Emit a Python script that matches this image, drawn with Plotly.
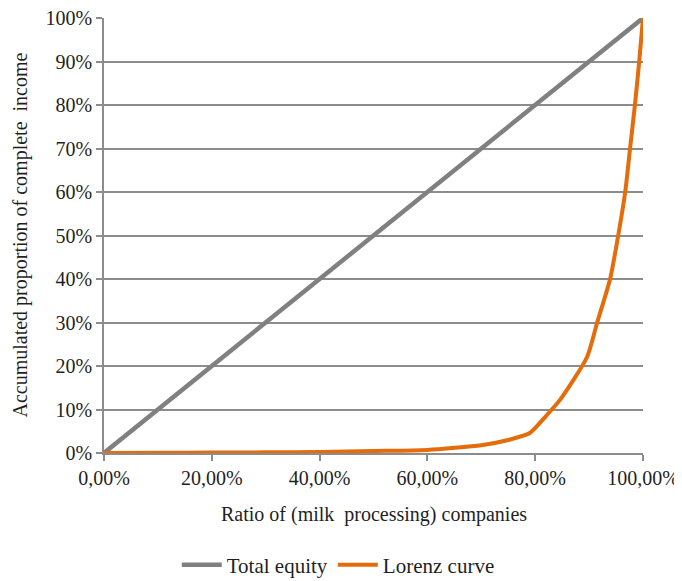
import plotly.graph_objects as go

# Data (fractions 0..1)
equity_x = [0.0, 1.0]
equity_y = [0.0, 1.0]

lorenz_x = [0.0, 0.10, 0.20, 0.30, 0.40, 0.50, 0.60, 0.70, 0.75, 0.79, 0.82, 0.846, 0.896,
            0.915, 0.939, 0.954, 0.967, 0.976, 0.985, 0.993, 1.0]
lorenz_y = [0.0, 0.0005, 0.001, 0.0015, 0.0025, 0.0045, 0.007, 0.018, 0.03, 0.046, 0.085, 0.122, 0.22,
            0.30, 0.40, 0.50, 0.60, 0.70, 0.80, 0.90, 1.0]

x_tickvals = [0.0, 0.2, 0.4, 0.6, 0.8, 1.0]
x_ticktext = ["0,00%", "20,00%", "40,00%", "60,00%", "80,00%", "100,00%"]
y_tickvals = [i / 10 for i in range(11)]
y_ticktext = [f"{i * 10}%" for i in range(11)]

x_title = "Ratio of (milk \u00a0processing) companies"
y_title = "Accumulated proportion of complete \u00a0income"

GRID = "#8c8c8c"
FONT = "Liberation Serif, Times New Roman, serif"
TXT = "#1f1f1f"

# page has an 8px body margin; figure sized to fit the 682x581 window
W, H = 674, 573

fig = go.Figure()
fig.add_trace(go.Scatter(x=equity_x, y=equity_y, mode="lines", name="Total equity",
                         line=dict(color="#808080", width=4.5)))
fig.add_trace(go.Scatter(x=lorenz_x, y=lorenz_y, mode="lines", name="Lorenz curve",
                         line=dict(color="#E46C0A", width=4, shape="spline", smoothing=0.6)))

fig.update_layout(
    width=W, height=H,
    margin=dict(l=96, r=39, t=10, b=128, autoexpand=False),
    paper_bgcolor="white", plot_bgcolor="white",
    font=dict(family=FONT, size=20, color=TXT),
    showlegend=True,
    legend=dict(orientation="h", x=0.49, xanchor="center", xref="container",
                y=1 - 557 / H, yanchor="middle", yref="container", font=dict(size=21),
                tracegroupgap=0, itemwidth=40),
    xaxis=dict(range=[0, 1], tickvals=x_tickvals, ticktext=x_ticktext, automargin=False,
               showgrid=False, zeroline=False, showline=True, linecolor=GRID, linewidth=1.5,
               ticks="outside", ticklen=6, tickcolor=GRID, tickwidth=1.5,
               ticklabeloverflow="allow"),
    yaxis=dict(range=[0, 1], tickvals=y_tickvals, ticktext=y_ticktext, automargin=False,
               showgrid=True, gridcolor=GRID, gridwidth=1.5, zeroline=False,
               showline=True, linecolor=GRID, linewidth=1.5,
               ticks="outside", ticklen=6, tickcolor=GRID, tickwidth=1.5,
               ticklabeloverflow="allow"),
    annotations=[
        dict(text=x_title, xref="paper", yref="paper", x=0.5, y=0, yshift=-61,
             xanchor="center", yanchor="middle", showarrow=False, font=dict(size=20)),
        dict(text=y_title, xref="paper", yref="paper", x=0, y=0.5, xshift=-84,
             xanchor="center", yanchor="middle", textangle=-90, showarrow=False,
             font=dict(size=20)),
    ],
)

fig.write_html("out.html")
